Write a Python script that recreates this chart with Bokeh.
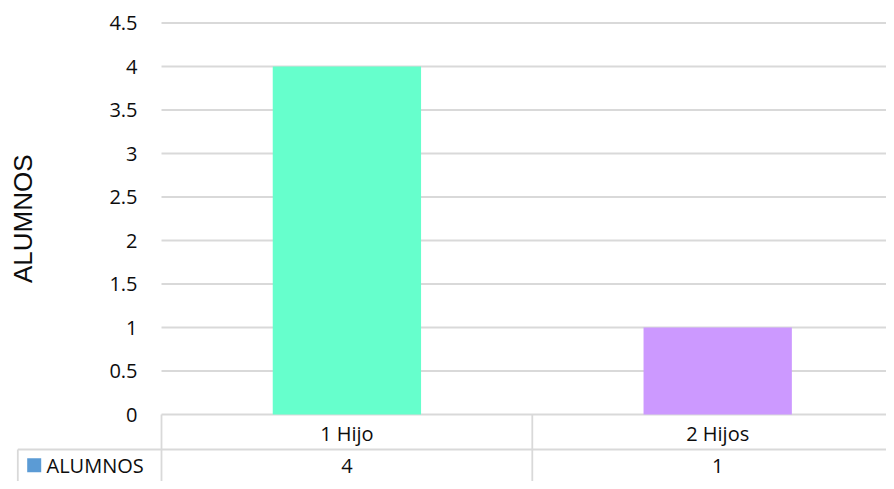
import math
from bokeh.plotting import figure
from bokeh.models import Range1d
from bokeh.core.properties import value
from bokeh.embed import file_html
from bokeh.resources import INLINE

# ---- data ----
categories = ["1 Hijo", "2 Hijos"]
alumnos = [4, 1]
series_name = "ALUMNOS"
y_ticks = [0, 0.5, 1, 1.5, 2, 2.5, 3, 3.5, 4, 4.5]
y_tick_labels = ["0", "0.5", "1", "1.5", "2", "2.5", "3", "3.5", "4", "4.5"]

# ---- styles ----
bar_colors = ["#66FFCC", "#CC99FF"]
legend_color = "#5B9BD5"
grid_color = "#D9D9D9"
txt_color = "#0d0d0d"
FONT = value("Open Sans")
FS = "20px"

# coordinate frame: category index units horizontally, value units vertically
W, H = 886, 481
X0 = -161 / 370.8
X1 = (W - 161) / 370.8
# compress the vertical slightly so the data table fits in the figure
y_unit = 87.0
zero_px = 414.0
Y1 = zero_px / y_unit
Y0 = -(H - zero_px) / y_unit

p = figure(width=W, height=H, x_range=Range1d(X0, X1), y_range=Range1d(Y0, Y1),
           x_axis_type=None, y_axis_type=None, toolbar_location=None,
           output_backend="svg", min_border=0)
p.outline_line_color = None
p.grid.visible = False
p.background_fill_color = "white"
p.border_fill_color = "white"

xc = [i + 0.5 for i in range(len(categories))]
n = len(categories)

# gridlines (including the 0 line which is the table's top border)
p.segment(x0=[0] * len(y_ticks), x1=[n + 0.1] * len(y_ticks), y0=y_ticks, y1=y_ticks,
          line_color=grid_color, line_width=1.8)

# bars
p.vbar(x=xc, top=alumnos, width=0.4, fill_color=bar_colors, line_color=None)

# y tick labels
p.text(x=[-0.0647] * len(y_ticks), y=y_ticks, text=y_tick_labels, text_font=FONT,
       text_font_size=FS, text_align="right", text_baseline="middle", text_color=txt_color)

# y axis title
p.text(x=[-0.3722], y=[(y_ticks[0] + y_ticks[-1]) / 2], text=[series_name], angle=math.pi / 2,
       text_font=value("Liberation Sans"), text_font_size="26px", text_align="center",
       text_baseline="middle", text_color=txt_color)

# data table (pixel offsets below the zero line converted to value units)
row_split = -35.0 / y_unit
row1_text = -18.5 / y_unit
row2_text = -51.0 / y_unit
left_edge = -0.3875
p.segment(x0=[left_edge], x1=[n + 0.1], y0=[row_split], y1=[row_split],
          line_color=grid_color, line_width=1.8)
vx = list(range(n + 1))
p.segment(x0=vx, x1=vx, y0=[0] * len(vx), y1=[Y0 - 1] * len(vx),
          line_color=grid_color, line_width=1.8)
p.segment(x0=[left_edge], x1=[left_edge], y0=[row_split], y1=[Y0 - 1],
          line_color=grid_color, line_width=1.8)

p.text(x=xc, y=[row1_text] * n, text=categories, text_font=FONT, text_font_size=FS,
       text_align="center", text_baseline="middle", text_color=txt_color)
p.text(x=xc, y=[row2_text] * n, text=[str(v) for v in alumnos], text_font=FONT,
       text_font_size=FS, text_align="center", text_baseline="middle", text_color=txt_color)
p.scatter(x=[-0.3433], y=[row2_text + 0.3 / y_unit], marker="square", size=14,
          fill_color=legend_color, line_color=None)
p.text(x=[-0.3101], y=[row2_text], text=[series_name], text_font=FONT, text_font_size=FS,
       text_align="left", text_baseline="middle", text_color=txt_color)

open("out.html", "w").write(file_html(p, INLINE))
